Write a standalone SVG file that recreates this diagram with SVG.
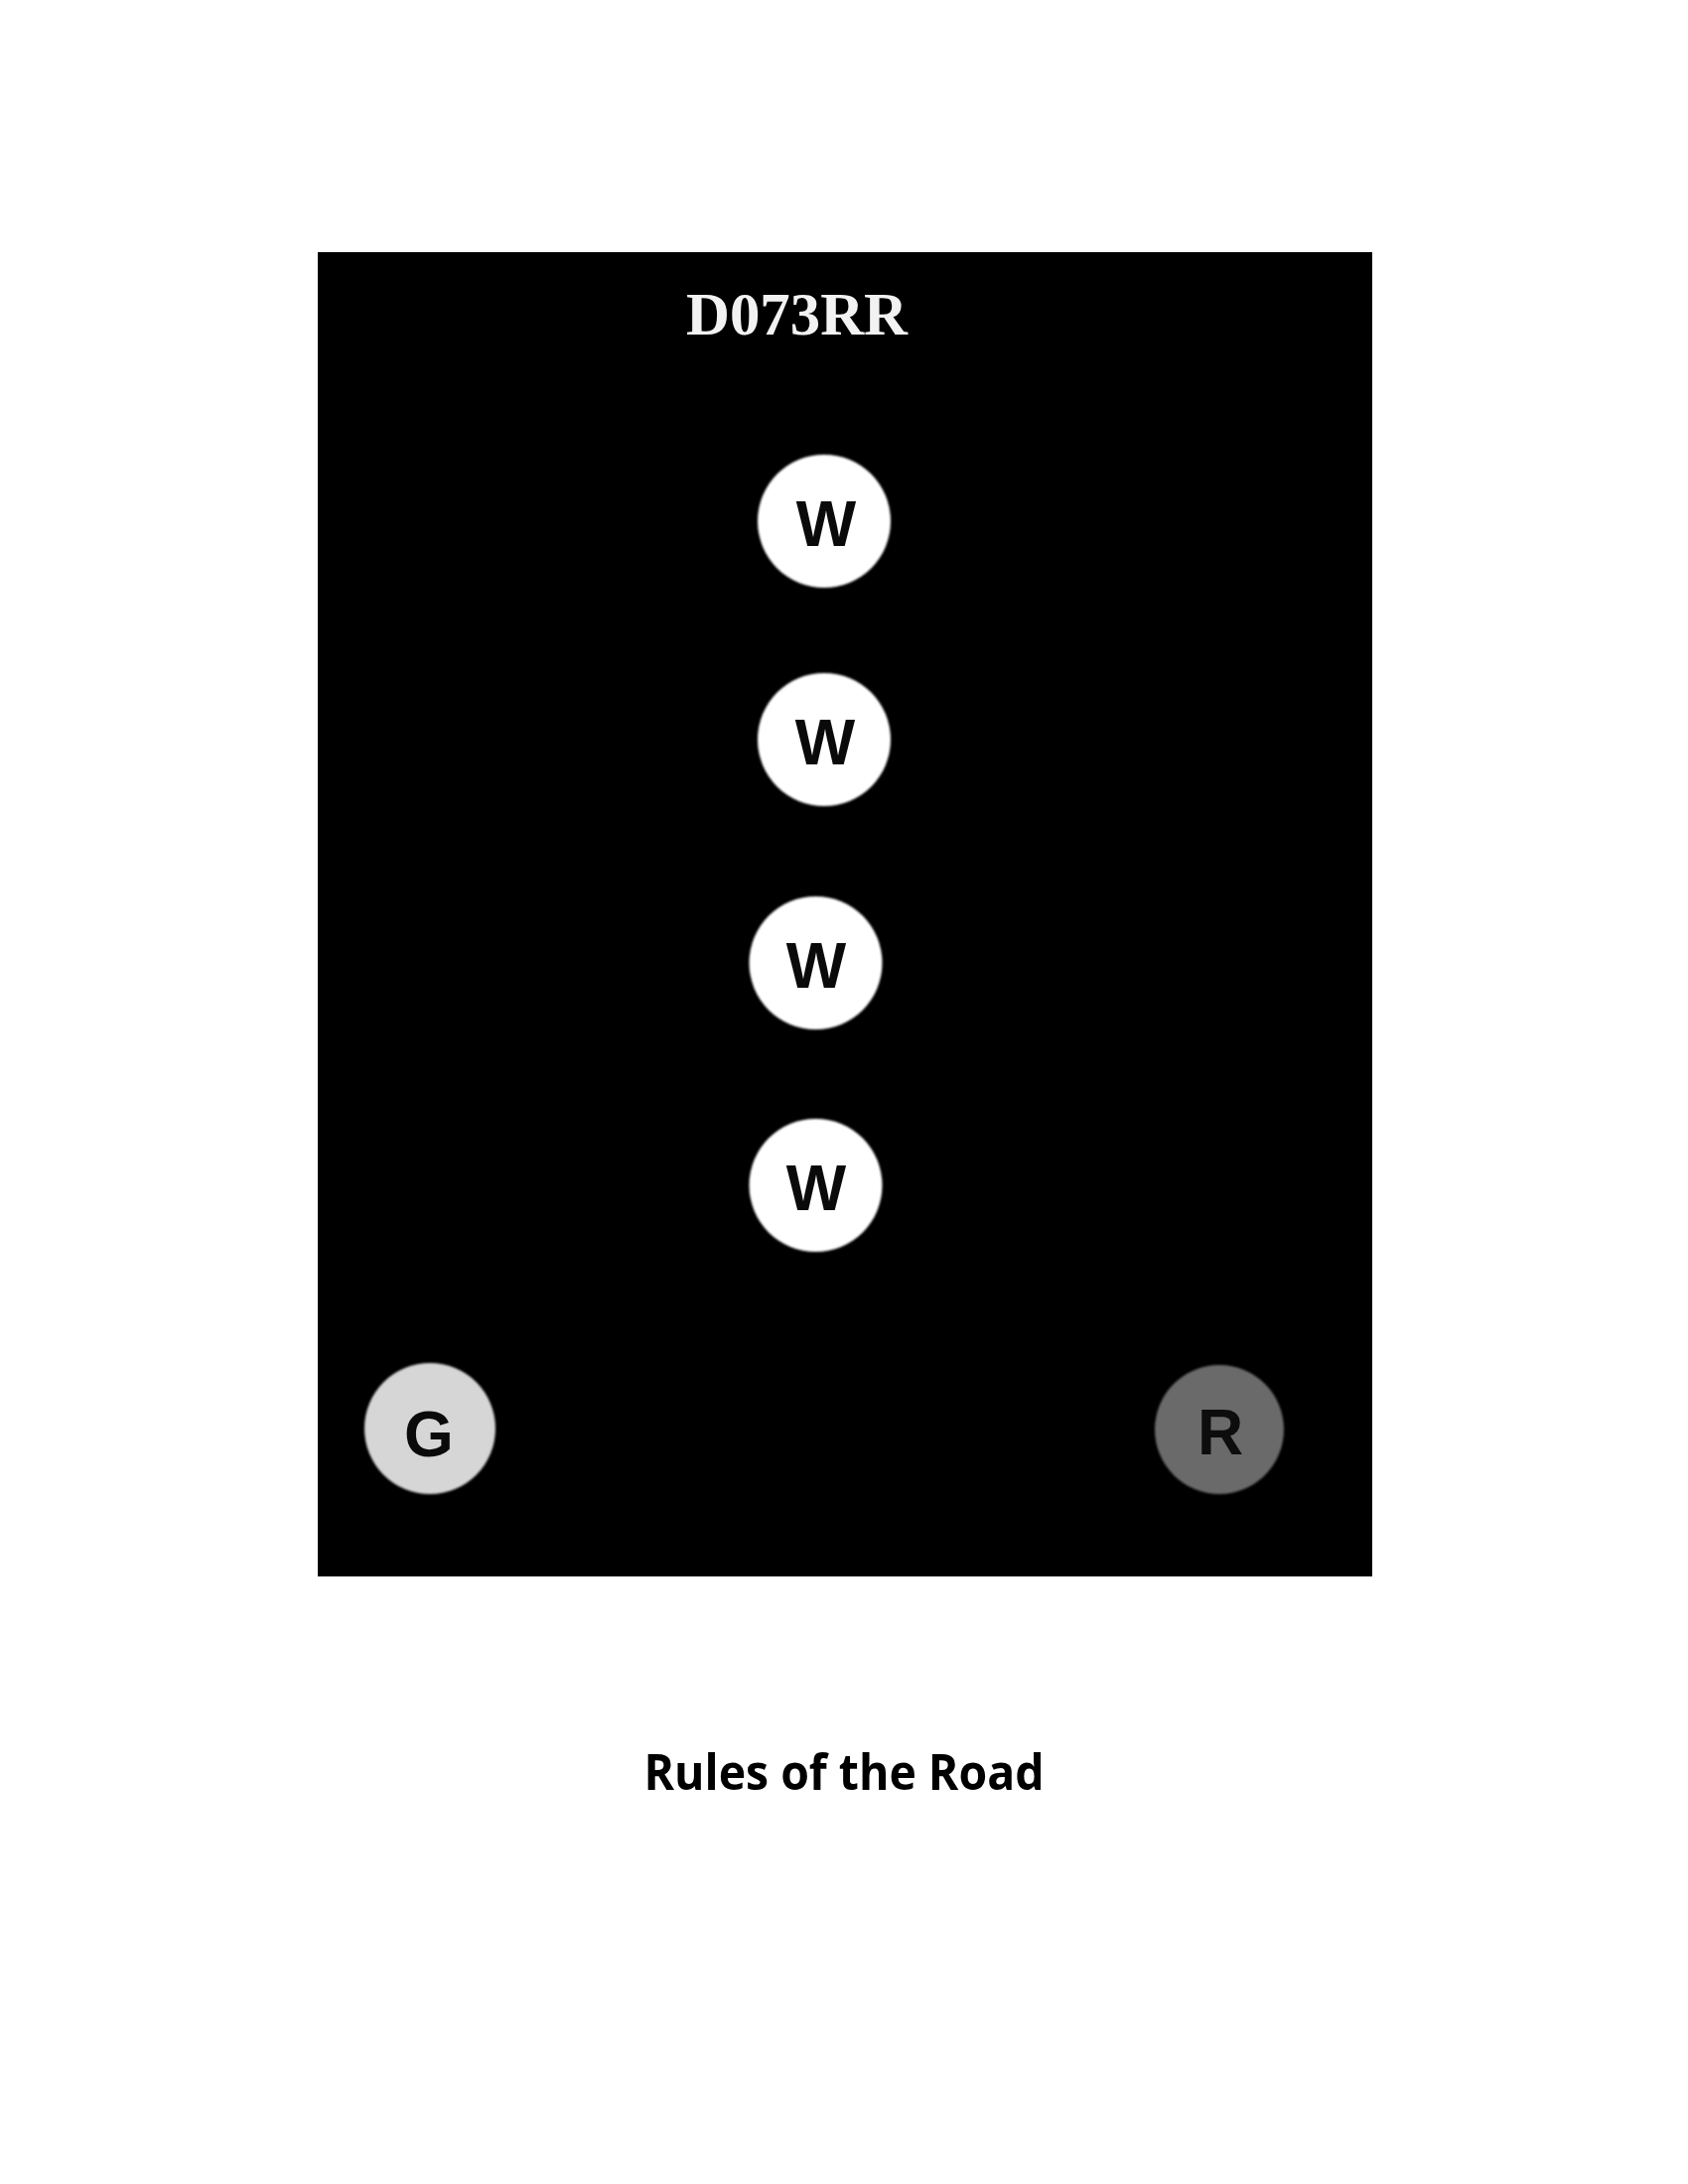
<svg xmlns="http://www.w3.org/2000/svg" width="1700" height="2200" viewBox="0 0 1700 2200">
<defs>
<style>
.lbl{font-family:"Liberation Sans",Arial,sans-serif;font-weight:bold;font-size:64px;fill:#0a0a0a;text-anchor:middle}
.w{fill:#ffffff}
</style>
<filter id="soft" x="-20%" y="-20%" width="140%" height="140%"><feGaussianBlur stdDeviation="1.2"/></filter>
</defs>
<rect width="1700" height="2200" fill="#ffffff"/>
<rect id="board" x="320" y="254" width="1062" height="1334" fill="#000000"/>
<text id="code" x="802.5" y="337" font-family="Liberation Serif,'Times New Roman',serif" font-weight="bold" font-size="62" fill="#f2f2f2" text-anchor="middle" textLength="223" lengthAdjust="spacingAndGlyphs">D073RR</text>
<g id="w1"><circle class="w" cx="830" cy="525" r="67" filter="url(#soft)"/><text class="lbl" x="832" y="550">W</text></g>
<g id="w2"><circle class="w" cx="830" cy="745" r="67" filter="url(#soft)"/><text class="lbl" x="831" y="770">W</text></g>
<g id="w3"><circle class="w" cx="821.5" cy="970" r="67" filter="url(#soft)"/><text class="lbl" x="822" y="995">W</text></g>
<g id="w4"><circle class="w" cx="821.5" cy="1194" r="67" filter="url(#soft)"/><text class="lbl" x="822" y="1219">W</text></g>
<g id="g"><circle cx="433" cy="1439" r="66" fill="#d6d6d6" filter="url(#soft)"/><text class="lbl" x="432" y="1467" fill="#111">G</text></g>
<g id="r"><circle cx="1228" cy="1440" r="65" fill="#6b6b6b" filter="url(#soft)"/><text class="lbl" x="1229" y="1465" style="fill:#0d0d0d">R</text></g>
<text id="title" x="850" y="1803" font-family="'Open Sans','Liberation Sans',sans-serif" font-weight="bold" font-size="50" fill="#000000" text-anchor="middle" textLength="403" lengthAdjust="spacingAndGlyphs">Rules of the Road</text>
</svg>
